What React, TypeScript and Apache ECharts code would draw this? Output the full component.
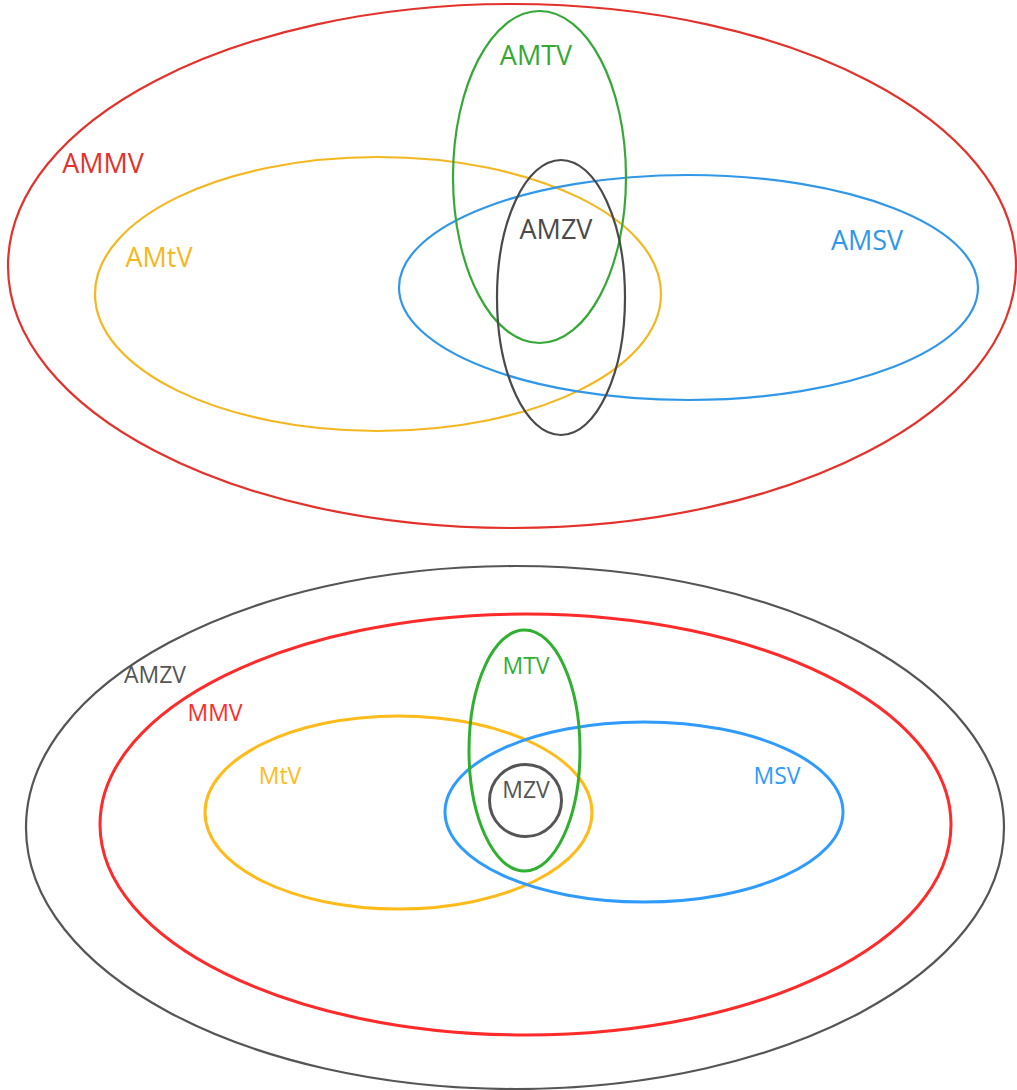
import React, { useEffect, useRef } from "react";
import * as echarts from "echarts";

// Diagram coordinate space (x right, y down)
const names = ["AMMV", "AMtV", "AMSV", "AMTV", "AMZV", "AMZV", "MMV", "MtV", "MSV", "MTV", "MZV"];
const centerX = [512, 378, 688.5, 539.5, 561, 515, 525.5, 398.5, 644, 524.5, 525.5];
const centerY = [266, 294, 287.5, 177, 297.5, 827.5, 824.5, 812.5, 812, 750.5, 800.5];
const radiusX = [504, 283, 289.5, 86.5, 64, 489, 425.5, 193.5, 199, 55.5, 36];
const radiusY = [262, 137, 112.5, 166, 137.5, 261.5, 210.5, 96.5, 90, 120.5, 36];
const labelX = [103, 159, 867, 536, 556, 155, 215, 280, 777, 526, 526];
const labelY = [162, 256, 239, 54, 228, 674, 712, 775, 775, 665, 789];

const colors = ["#e3322b", "#f4b71f", "#3197e8", "#35a836", "#4a4a4a", "#555555", "#ff2b2b", "#ffbb1a", "#2f9bff", "#30b030", "#555555"];
const lineWidths = [2.2, 2.2, 2.2, 2.2, 2.2, 2.2, 3, 3, 3, 3, 3];
const fontSizes = [27, 27, 27, 27, 27, 23, 23, 23, 23, 23, 23];

export default function App() {
  const ref = useRef<HTMLDivElement>(null);
  useEffect(() => {
    if (!ref.current) return;
    const chart = echarts.init(ref.current, undefined, { renderer: "svg" });
    const data = names.map((n, i) => [centerX[i], centerY[i], radiusX[i], radiusY[i], labelX[i], labelY[i], i]);
    chart.setOption({
      animation: false,
      backgroundColor: "#ffffff",
      grid: { left: 0, right: 0, top: 0, bottom: 0 },
      xAxis: { type: "value", min: 0, max: 1017, show: false },
      yAxis: { type: "value", min: 0, max: 1090, inverse: true, show: false },
      series: [
        {
          type: "custom",
          coordinateSystem: "cartesian2d",
          clip: false,
          data,
          renderItem: (params: any, api: any) => {
            const i = api.value(6);
            const c = api.coord([api.value(0), api.value(1)]);
            const s = api.size([api.value(2), api.value(3)]);
            const l = api.coord([api.value(4), api.value(5)]);
            return {
              type: "group",
              children: [
                {
                  type: "ellipse",
                  shape: { cx: c[0], cy: c[1], rx: s[0], ry: s[1] },
                  style: { fill: "none", stroke: colors[i], lineWidth: lineWidths[i] },
                },
                {
                  type: "text",
                  x: l[0],
                  y: l[1],
                  style: {
                    text: names[i],
                    fill: colors[i],
                    font: `${fontSizes[i]}px "Open Sans", sans-serif`,
                    align: "center",
                    verticalAlign: "middle",
                  },
                },
              ],
            };
          },
        },
      ],
    });
    return () => chart.dispose();
  }, []);
  return (
    <div
      ref={ref}
      style={{ position: "fixed", left: 0, top: 0, width: 1017, height: 1090 }}
    />
  );
}
